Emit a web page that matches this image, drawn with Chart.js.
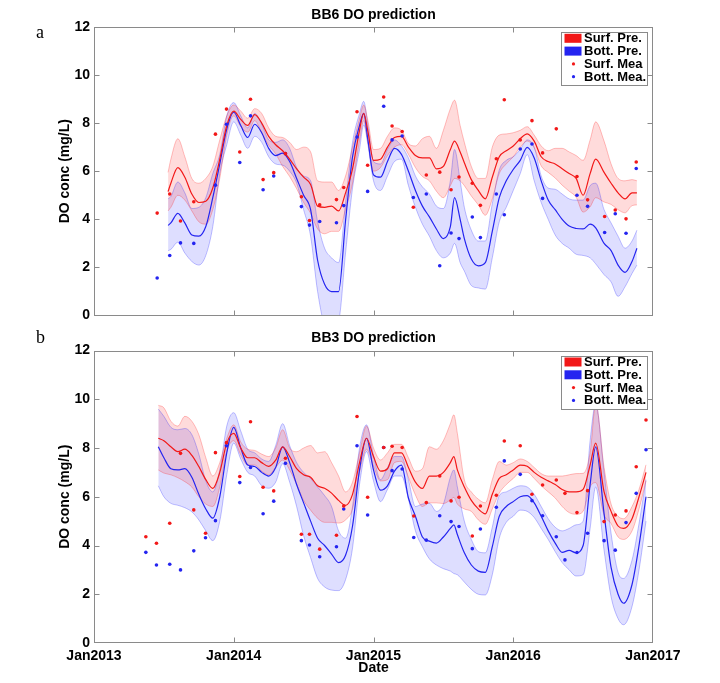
<!DOCTYPE html>
<html><head><meta charset="utf-8">
<script src="https://cdn.jsdelivr.net/npm/chart.js@4.4.0/dist/chart.umd.min.js"></script>
<style>
html,body{margin:0;padding:0;background:#fff;width:720px;height:683px;overflow:hidden;}
#w1{position:absolute;left:0;top:0;width:720px;height:328px;}
#w2{position:absolute;left:0;top:328px;width:720px;height:355px;}
</style></head><body>
<div id="w1"><canvas id="c1"></canvas></div>
<div id="w2"><canvas id="c2"></canvas></div>
<script>
// ---------- Panel a : BB6 ----------
const bb6Dates = [
2013.53,2013.55,2013.60,2013.65,2013.70,2013.75,2013.80,2013.85,2013.90,2013.95,
2014.00,2014.05,2014.10,2014.15,2014.20,2014.25,2014.30,2014.35,2014.40,2014.45,
2014.50,2014.55,2014.60,2014.65,2014.70,2014.75,2014.80,2014.85,2014.90,2014.93,
2014.96,2015.00,2015.05,2015.10,2015.15,2015.20,2015.25,2015.30,2015.35,2015.40,
2015.45,2015.50,2015.55,2015.58,2015.62,2015.65,2015.70,2015.75,2015.80,2015.85,
2015.90,2015.95,2016.00,2016.05,2016.10,2016.15,2016.20,2016.25,2016.30,2016.35,
2016.40,2016.45,2016.50,2016.55,2016.59,2016.65,2016.70,2016.75,2016.80,2016.85,
2016.885];
const bb6SurfPre = [
5.15,5.5,6.15,5.75,5.05,4.7,4.75,5.3,6.5,7.9,
8.5,8.15,7.9,8.35,8.0,7.45,7.1,6.85,6.5,6.1,
5.75,5.45,4.55,4.5,4.55,4.35,5.1,6.1,7.7,8.4,
7.65,6.45,6.5,7.0,7.4,7.45,7.0,6.65,6.55,6.55,
6.1,6.2,6.9,7.25,6.8,6.35,5.65,5.2,4.85,5.75,
6.6,6.85,7.05,7.35,7.55,7.25,6.6,6.4,6.3,6.1,
5.9,5.7,5.0,5.9,6.5,5.95,5.5,5.1,4.85,5.1,
5.1];
const bb6SurfHi = [
5.95,6.5,7.35,6.6,5.7,5.5,5.7,6.2,7.3,8.3,
8.75,8.5,8.2,8.6,8.4,7.8,7.45,7.4,7.2,6.9,
7.0,6.8,5.6,5.55,5.55,5.2,5.8,7.0,8.2,8.75,
8.1,6.9,6.95,7.45,7.8,7.7,7.15,7.05,7.35,7.45,
6.95,7.7,8.6,8.95,7.9,7.2,6.2,5.7,5.7,7.0,
7.5,7.55,7.6,7.7,7.85,7.5,7.05,6.85,6.95,6.95,
6.8,6.65,6.45,7.3,8.05,7.25,6.3,5.7,5.6,5.65,
5.6];
const bb6SurfLo = [
4.35,4.5,5.0,4.8,4.35,3.9,3.8,4.4,5.7,7.5,
8.3,7.85,7.62,8.1,7.6,7.08,6.72,6.2,5.78,5.27,
4.7,4.25,3.6,3.4,3.5,3.5,4.4,5.5,7.25,8.1,
7.2,6.0,6.15,6.65,7.0,7.1,6.7,6.15,5.78,5.6,
5.17,4.9,5.4,5.7,5.6,5.4,4.97,4.6,4.17,4.85,
5.9,6.3,6.6,7.0,7.25,6.97,6.22,5.95,5.72,5.42,
5.17,4.92,4.3,4.52,4.9,4.72,4.62,4.4,4.27,4.57,
4.6];
const bb6BottPre = [
3.75,3.85,4.25,3.85,3.35,3.3,3.7,4.9,6.3,7.75,
8.45,7.9,7.4,7.95,7.6,6.95,6.65,6.75,6.4,5.7,
5.0,4.4,2.3,1.3,1.0,1.0,3.95,6.6,7.9,8.4,
7.3,5.85,5.75,6.4,6.95,6.7,6.0,5.2,4.55,4.1,
3.6,3.2,3.7,4.9,4.0,3.2,2.35,2.07,2.2,3.5,
4.9,5.6,6.07,6.45,6.99,6.55,5.6,4.8,4.4,4.0,
3.72,3.62,3.6,3.8,3.65,3.0,2.7,2.1,1.8,2.25,
2.8];
const bb6BottHi = [
4.85,4.95,5.55,5.1,4.45,4.5,4.9,5.9,6.7,8.3,
8.85,8.3,7.8,8.4,7.95,7.3,7.2,7.3,6.95,6.15,
5.8,5.6,3.9,2.8,2.4,2.2,4.7,7.2,8.4,8.9,
7.9,6.4,6.3,6.9,7.3,7.05,6.55,5.8,5.35,5.05,
4.55,4.45,5.6,6.9,5.6,4.5,3.55,3.1,3.1,4.65,
6.05,6.45,6.6,6.9,7.3,7.0,5.8,5.3,5.25,5.05,
4.85,4.8,4.8,5.4,5.5,4.4,3.85,3.3,2.8,3.1,
3.55];
const bb6BottLo = [
2.7,2.75,3.05,2.6,2.25,2.1,2.5,3.7,5.9,7.1,
8.05,7.5,6.95,7.45,7.2,6.6,6.3,6.25,6.0,5.5,
4.4,3.3,1.0,-0.3,-0.4,-0.2,2.6,5.3,6.9,7.92,
7.1,5.6,5.2,5.8,6.4,6.5,5.4,4.5,3.8,3.3,
2.7,2.4,2.6,3.0,2.2,1.85,1.25,1.15,1.1,2.4,
3.9,4.5,5.2,5.9,6.69,5.6,4.7,4.0,3.35,3.0,
2.8,2.55,2.5,2.4,2.15,1.7,1.4,0.8,1.2,1.75,
2.1];
const bb6MeaDates = [2013.452,2013.542,2013.619,2013.714,2013.869,2013.948,2014.043,2014.12,2014.21,2014.286,
2014.37,2014.484,2014.542,2014.615,2014.735,2014.787,2014.882,2014.958,2015.073,2015.133,
2015.205,2015.285,2015.378,2015.474,2015.555,2015.612,2015.707,2015.765,2015.879,2015.936,
2016.05,2016.134,2016.21,2016.308,2016.456,2016.532,2016.654,2016.73,2016.807,2016.88];
const bb6SurfMea = [4.26,5.05,3.93,4.73,7.54,8.58,6.8,8.99,5.65,5.94,
6.73,4.94,3.95,4.6,4.82,5.32,8.47,6.25,9.08,7.88,
7.65,4.5,5.84,5.96,5.23,5.76,5.5,4.58,6.52,8.97,
7.3,8.1,6.76,7.76,5.78,4.81,4.12,4.39,4.02,6.38];
const bb6BottMea = [1.56,2.5,3.02,3.0,5.42,7.95,6.36,8.3,5.23,5.8,
6.73,4.53,3.76,3.91,3.86,4.57,7.42,5.16,8.7,7.3,
7.46,4.91,5.05,2.07,3.43,3.2,4.1,3.24,5.05,4.19,
6.92,7.13,4.87,null,5.0,4.54,3.45,4.23,3.42,6.11];

// ---------- Panel b : BB3 ----------
const bb3Dates = [
2013.46,2013.50,2013.55,2013.60,2013.65,2013.70,2013.75,2013.80,2013.85,2013.90,
2013.95,2014.00,2014.05,2014.10,2014.15,2014.20,2014.25,2014.30,2014.35,2014.40,
2014.45,2014.50,2014.55,2014.60,2014.65,2014.70,2014.75,2014.80,2014.85,2014.90,
2014.95,2015.00,2015.05,2015.10,2015.15,2015.20,2015.25,2015.30,2015.35,2015.40,
2015.45,2015.50,2015.55,2015.575,2015.60,2015.65,2015.70,2015.75,2015.80,2015.85,
2015.90,2015.95,2016.00,2016.05,2016.10,2016.15,2016.20,2016.25,2016.30,2016.35,
2016.40,2016.45,2016.50,2016.55,2016.59,2016.65,2016.70,2016.75,2016.79,2016.85,
2016.90,2016.95];
const bb3SurfPre = [
8.4,8.3,8.05,7.85,7.95,7.7,7.24,6.7,6.34,7.0,
8.2,8.6,8.0,7.6,7.6,7.4,7.25,7.5,8.05,7.65,
7.15,6.9,6.8,6.45,6.35,6.15,5.85,5.65,6.1,7.4,
8.4,7.65,7.05,7.15,7.8,7.8,7.2,6.6,6.34,6.85,
6.85,7.0,7.4,7.65,7.1,6.4,5.85,5.5,5.3,6.1,
6.75,6.9,7.1,7.3,7.25,7.0,6.8,6.65,6.5,6.3,
6.2,6.2,6.3,7.3,8.2,6.2,5.4,4.8,4.7,5.1,
6.0,7.0];
const bb3SurfHi = [
9.75,9.65,9.1,8.9,9.3,9.1,8.55,7.6,6.85,7.4,
8.4,8.95,8.25,7.95,7.9,7.75,7.65,8.0,8.75,8.0,
7.85,8.0,8.1,7.8,7.85,7.4,6.85,6.2,6.6,7.8,
8.9,8.0,7.51,7.8,8.15,8.15,7.6,7.05,7.15,8.05,
7.95,8.3,9.0,9.36,8.6,6.7,6.2,5.9,5.75,6.7,
7.45,7.3,7.4,7.55,7.45,7.2,6.95,6.85,6.85,6.85,
6.9,6.95,6.96,7.8,9.8,7.2,5.7,5.2,5.1,5.6,
6.3,7.31];
const bb3SurfLo = [
7.1,6.97,6.9,6.78,6.62,6.4,6.0,5.7,5.6,6.4,
7.85,8.3,7.72,7.3,7.3,7.05,6.9,7.2,7.5,7.1,
6.5,5.85,5.45,5.12,4.95,4.95,4.92,5.05,5.5,7.0,
7.95,7.25,6.65,6.7,7.4,7.45,6.8,6.07,5.6,5.75,
5.75,5.72,5.87,5.97,5.7,5.5,5.4,5.05,4.87,5.5,
6.15,6.5,6.75,7.0,7.0,6.75,6.45,6.2,5.95,5.6,
5.35,5.28,5.4,6.4,6.58,5.25,4.9,4.35,4.25,4.6,
5.5,6.65];
const bb3BottPre = [
8.05,7.6,7.15,7.1,7.15,6.8,6.1,5.5,5.12,6.0,
7.8,8.85,8.0,7.3,7.24,7.0,6.85,7.2,8.05,7.4,
6.5,5.75,5.0,4.3,4.0,3.65,3.3,3.6,4.8,7.1,
8.4,7.1,6.27,6.45,7.05,7.3,5.95,5.2,4.35,4.18,
4.1,4.35,4.7,4.85,4.45,3.7,3.2,2.95,2.9,3.95,
5.2,5.6,5.8,6.0,6.05,5.75,5.2,4.6,4.1,3.72,
3.8,3.7,4.0,6.5,8.05,5.3,3.1,2.0,1.63,2.4,
4.0,6.0];
const bb3BottHi = [
9.6,9.3,8.85,8.75,8.8,8.55,7.75,6.65,6.2,7.1,
8.9,9.45,8.7,7.95,7.8,7.55,7.45,8.1,9.0,8.1,
7.4,7.0,6.75,6.4,6.05,5.6,4.6,4.3,5.6,8.0,
8.95,7.7,6.7,7.2,7.65,7.65,6.7,5.6,5.7,5.73,
5.4,5.7,6.8,7.1,6.4,5.0,4.25,3.75,3.7,4.75,
6.05,6.2,6.35,6.45,6.4,6.1,5.6,5.1,4.75,4.6,
4.7,4.85,5.0,8.3,9.8,7.0,4.5,2.9,2.65,3.4,
4.9,6.7];
const bb3BottLo = [
6.45,6.0,5.73,5.65,5.55,5.38,5.05,4.6,4.2,5.0,
6.9,8.2,7.55,7.0,6.85,6.45,6.35,6.6,7.35,6.6,
5.6,4.4,3.5,2.65,2.3,2.17,2.15,2.6,3.9,6.5,
7.85,6.65,5.8,6.3,6.85,6.85,5.9,4.6,3.95,3.45,
3.2,3.05,2.95,2.85,2.8,2.5,2.2,2.0,1.97,2.8,
4.3,4.95,5.2,5.45,5.4,5.15,4.7,4.25,3.75,3.3,
3.0,2.75,2.8,4.7,6.4,3.8,1.9,1.0,0.75,1.5,
3.0,5.0];
const bb3MeaDates = [2013.371,2013.447,2013.542,2013.619,2013.714,2013.798,2013.869,2013.948,2014.043,2014.12,
2014.21,2014.286,2014.37,2014.484,2014.542,2014.615,2014.735,2014.787,2014.882,2014.958,
2015.073,2015.133,2015.205,2015.288,2015.378,2015.474,2015.555,2015.612,2015.707,2015.765,
2015.879,2015.936,2016.05,2016.134,2016.21,2016.308,2016.37,2016.456,2016.532,2016.65,
2016.73,2016.807,2016.88,2016.95];
const bb3SurfMea = [4.36,4.09,4.91,7.78,5.46,4.5,7.81,8.22,6.83,9.08,
6.39,6.24,7.58,4.46,4.46,3.85,4.42,5.62,9.29,5.98,
8.02,8.07,8.02,5.21,5.76,6.85,5.83,5.98,4.39,5.62,
6.06,8.29,8.09,6.1,6.48,6.69,6.14,5.35,6.25,4.98,
5.25,5.42,7.23,9.15];
const bb3BottMea = [3.72,3.2,3.23,3.0,3.78,4.32,5.02,8.09,6.58,7.2,
5.3,5.82,7.37,4.2,4.02,3.54,3.95,5.5,8.09,5.25,
8.02,7.07,7.14,4.33,4.22,5.22,4.98,4.78,3.87,4.68,
5.57,7.47,6.92,5.84,5.22,4.36,3.41,3.71,4.5,4.2,
3.81,4.94,6.14,7.93];

// ---------- Axis / legend text ----------
const xTickYears = [2013, 2014, 2015, 2016, 2017];
const yTicks = [0, 2, 4, 6, 8, 10, 12];
const legendLabels = ['Surf. Pre.', 'Bott. Pre.', 'Surf. Mea', 'Bott. Mea.'];

// ---------- styles ----------
const RED = 'rgb(242,24,24)', BLUE = 'rgb(36,36,240)';
const RED_FILL = 'rgba(255,0,0,0.14)', BLUE_FILL = 'rgba(0,0,255,0.13)';
const RED_EDGE = 'rgba(255,0,0,0.28)', BLUE_EDGE = 'rgba(0,0,255,0.28)';
const FONT = '"Liberation Sans", Arial, Helvetica, sans-serif';
Chart.defaults.font.family = FONT;
Chart.defaults.color = '#000';

const pts = (xs, ys) => xs.map((x, i) => ({x, y: ys[i]})).filter(p => p.y !== null);
function lineDs(label, xs, ys, color, w, order, fill, bg) {
  return {label, data: pts(xs, ys), borderColor: color, borderWidth: w, pointRadius: 0,
    cubicInterpolationMode: 'monotone', fill: fill || false, backgroundColor: bg || 'transparent', order};
}
function pointDs(label, xs, ys, color) {
  return {label, data: pts(xs, ys), showLine: false, pointRadius: 1.8, pointBorderWidth: 0,
    pointBackgroundColor: color, borderColor: color, backgroundColor: color, order: 0};
}
function datasets(xs, sHi, sLo, sLine, bHi, bLo, bLine, mx, sM, bM) {
  return [
    lineDs('Surf. upper', xs, sHi, RED_EDGE, 0.9, 3, '+1', RED_FILL),
    lineDs('Surf. lower', xs, sLo, RED_EDGE, 0.9, 3),
    lineDs('Bott. upper', xs, bHi, BLUE_EDGE, 0.9, 3, '+1', BLUE_FILL),
    lineDs('Bott. lower', xs, bLo, BLUE_EDGE, 0.9, 3),
    lineDs(legendLabels[0], xs, sLine, RED, 1.2, 1),
    lineDs(legendLabels[1], xs, bLine, BLUE, 1.2, 1),
    pointDs(legendLabels[2], mx, sM, RED),
    pointDs(legendLabels[3], mx, bM, BLUE)
  ];
}

const framePlugin = {
  id: 'frameTicks',
  afterDatasetsDraw(chart) {
    const {ctx, chartArea: a, scales: {x, y}} = chart;
    ctx.save();
    ctx.strokeStyle = '#8a8a8a'; ctx.lineWidth = 1;
    const L = Math.round(a.left) + 0.5, R = Math.round(a.right) - 0.5;
    const T = Math.round(a.top) + 0.5, B = Math.round(a.bottom) - 0.5;
    ctx.strokeRect(L, T, R - L, B - T);
    ctx.beginPath();
    xTickYears.slice(1, -1).forEach(v => {
      const px = Math.round(x.getPixelForValue(v)) + 0.5;
      ctx.moveTo(px, B); ctx.lineTo(px, B - 5);
      ctx.moveTo(px, T); ctx.lineTo(px, T + 5);
    });
    yTicks.slice(1, -1).forEach(v => {
      const py = Math.round(y.getPixelForValue(v)) + 0.5;
      ctx.moveTo(L, py); ctx.lineTo(L + 5, py);
      ctx.moveTo(R, py); ctx.lineTo(R - 5, py);
    });
    ctx.stroke();
    ctx.restore();
  }
};

const legendPlugin = {
  id: 'boxLegend',
  afterDraw(chart) {
    const {ctx, chartArea: a} = chart;
    const x0 = Math.round(a.right) - 92, y0 = Math.round(a.top) + 5, w = 86, h = 53;
    ctx.save();
    ctx.fillStyle = '#fff'; ctx.fillRect(x0, y0, w, h);
    ctx.strokeStyle = '#8a8a8a'; ctx.lineWidth = 1; ctx.strokeRect(x0 + 0.5, y0 + 0.5, w, h);
    const colors = [RED, BLUE, RED, BLUE];
    ctx.font = 'bold 13px ' + FONT; ctx.textBaseline = 'middle'; ctx.textAlign = 'left';
    legendLabels.forEach((t, i) => {
      const cy = a.top + 11.5 + 12.8 * i;
      ctx.fillStyle = colors[i];
      if (i < 2) ctx.fillRect(x0 + 3.5, cy - 4.5, 17, 9);
      else { ctx.beginPath(); ctx.arc(x0 + 12.5, cy, 1.6, 0, Math.PI * 2); ctx.fill(); }
      ctx.fillStyle = '#000';
      ctx.fillText(t, x0 + 23, cy + 0.5);
    });
    ctx.restore();
  }
};

const tagPlugin = {
  id: 'panelTag',
  afterDraw(chart, args, o) {
    const ctx = chart.ctx;
    ctx.save();
    ctx.font = '18px "Liberation Serif", "Times New Roman", serif';
    ctx.fillStyle = '#000'; ctx.textBaseline = 'alphabetic';
    ctx.fillText(o.text, o.x, o.y);
    ctx.restore();
  }
};

function makeChart(id, title, tag, tagY, isBottom, ds) {
  return new Chart(document.getElementById(id), {
    type: 'line',
    data: {datasets: ds},
    plugins: [framePlugin, legendPlugin, tagPlugin],
    options: {
      responsive: true, maintainAspectRatio: false, animation: false, devicePixelRatio: 1,
      layout: {padding: {left: 0, right: 67, top: 0, bottom: isBottom ? 0 : 8}},
      scales: {
        x: {
          type: 'linear', min: 2013, max: 2017,
          grid: {display: false, drawTicks: false}, border: {display: false},
          ticks: {display: isBottom, stepSize: 1, autoSkip: false, maxRotation: 0, padding: 5,
                  font: {size: 14, weight: 'bold'}, color: '#000', callback: v => 'Jan' + v},
          title: {display: isBottom, text: 'Date', font: {size: 14, weight: 'bold'}, color: '#000',
                  padding: {top: 0, bottom: 6}},
          afterFit: s => { s.height = isBottom ? 40 : 0; }
        },
        y: {
          min: 0, max: 12,
          grid: {display: false, drawTicks: false}, border: {display: false},
          ticks: {stepSize: 2, padding: 4, font: {size: 14, weight: 'bold'}, color: '#000'},
          title: {display: true, text: 'DO conc (mg/L)', font: {size: 14, weight: 'bold'}, color: '#000',
                  padding: {top: 57, bottom: 0}},
          afterFit: s => { s.width = 94; }
        }
      },
      plugins: {
        legend: {display: false},
        tooltip: {enabled: false},
        filler: {propagate: false, drawTime: 'beforeDatasetsDraw'},
        title: {display: true, text: title, fullSize: false, font: {size: 14, weight: 'bold'}, color: '#000',
                padding: isBottom ? {top: 1.6, bottom: 4.1} : {top: 7, bottom: 3}},
        panelTag: {text: tag, x: 36, y: tagY}
      }
    }
  });
}

makeChart('c1', 'BB6 DO prediction', 'a', 38, false,
  datasets(bb6Dates, bb6SurfHi, bb6SurfLo, bb6SurfPre, bb6BottHi, bb6BottLo, bb6BottPre, bb6MeaDates, bb6SurfMea, bb6BottMea));
makeChart('c2', 'BB3 DO prediction', 'b', 15, true,
  datasets(bb3Dates, bb3SurfHi, bb3SurfLo, bb3SurfPre, bb3BottHi, bb3BottLo, bb3BottPre, bb3MeaDates, bb3SurfMea, bb3BottMea));
</script>
</body></html>
